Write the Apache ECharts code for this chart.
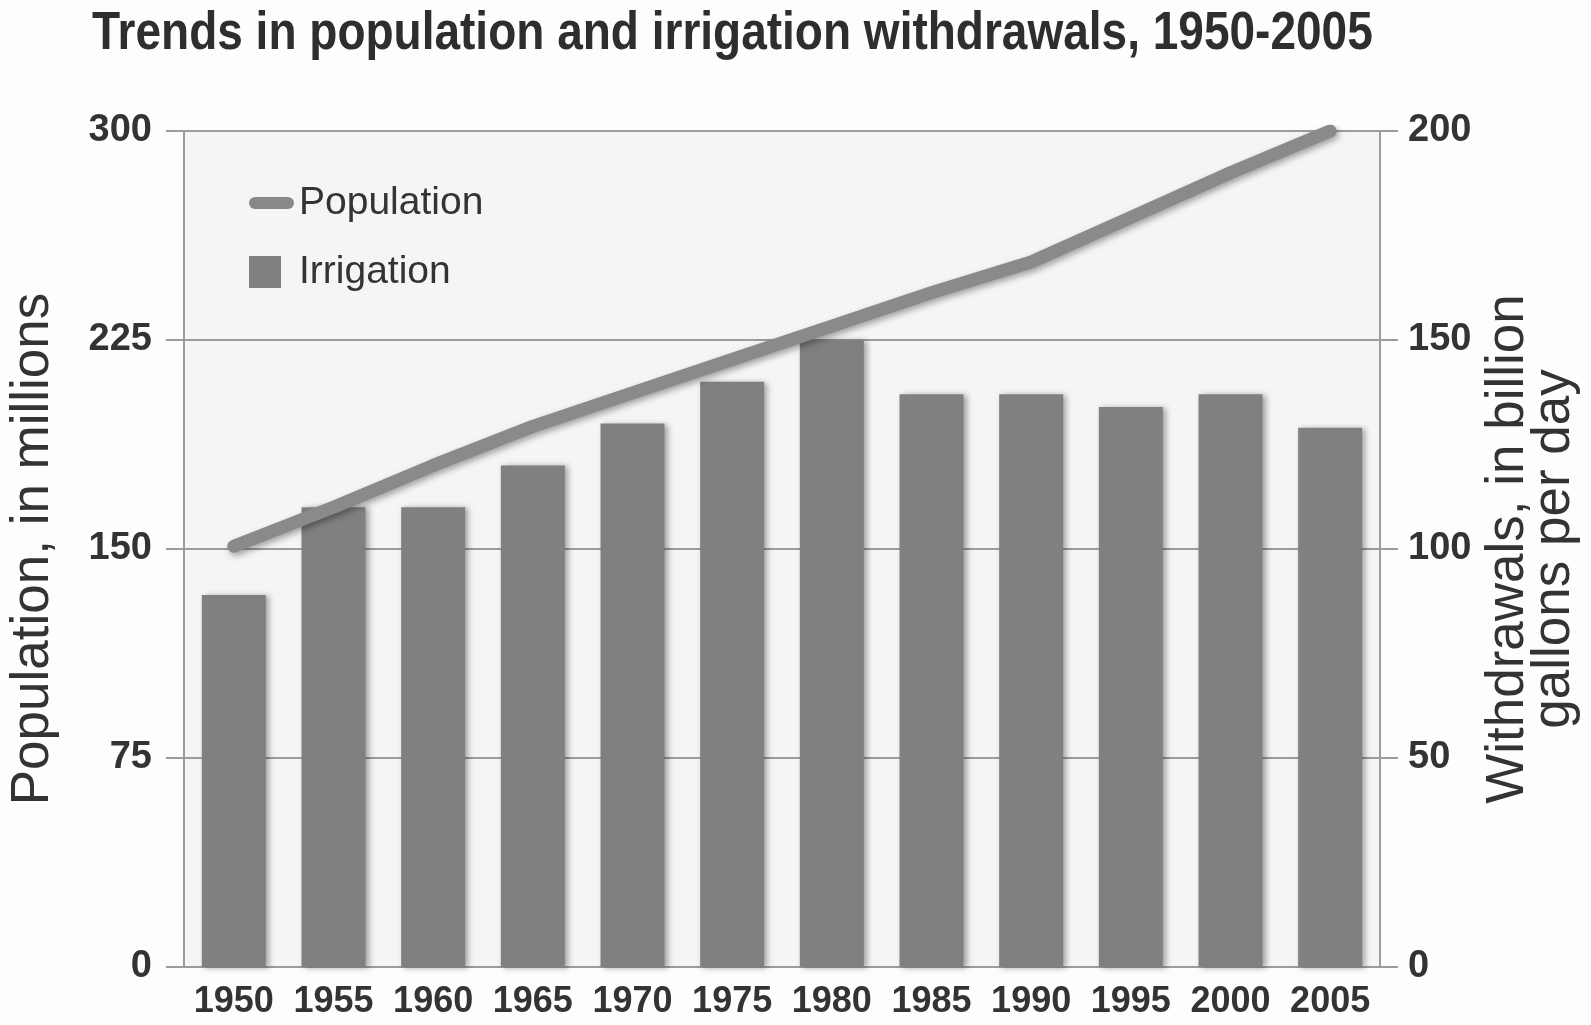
<!DOCTYPE html>
<html>
<head>
<meta charset="utf-8">
<script src="https://cdn.jsdelivr.net/npm/echarts@6/dist/echarts.min.js"></script>
<style>
  html, body { margin: 0; padding: 0; background: #fdfdfd; }
  #main { width: 1591px; height: 1025px; }
</style>
</head>
<body>
<div id="main"></div>
<script>
var years = ['1950', '1955', '1960', '1965', '1970', '1975', '1980', '1985', '1990', '1995', '2000', '2005'];
// population, millions (left axis)
var population = [151, 165, 180, 194, 206, 218, 230, 242, 253, 269, 285, 300];
// irrigation withdrawals, billion gallons per day (right axis)
var irrigation = [89, 110, 110, 120, 130, 140, 150, 137, 137, 134, 137, 129];

var titleText = 'Trends in population and irrigation withdrawals, 1950-2005';
var font = "'Liberation Sans', Arial, sans-serif";
var gridGray = '#9c9c9c';

var chart = echarts.init(document.getElementById('main'));

var option = {
  backgroundColor: '#fdfdfd',
  animation: false,
  // title drawn as graphic text so it can be squeezed like the condensed original
  graphic: [{
    type: 'text',
    x: 92,
    y: 8,
    scaleX: 0.868,
    style: {
      text: titleText,
      font: "bold 53px 'Liberation Sans', Arial, sans-serif",
      fill: '#2e2e2e',
      textVerticalAlign: 'top'
    }
  }],
  legend: {
    orient: 'vertical',
    left: 244,
    top: 178,
    itemWidth: 45,
    itemHeight: 32,
    itemGap: 29,
    textStyle: { fontFamily: font, fontSize: 39, color: '#333', lineHeight: 40 },
    data: [
      { name: 'Population', icon: 'path://M6,0 H39 A6,6 0 0 1 39,12 H6 A6,6 0 0 1 6,0 Z', itemStyle: { color: '#888' } },
      { name: 'Irrigation', icon: 'path://M0,0 H32 V32 H0 Z M45,32 L45,32', itemStyle: { color: '#808080' } }
    ]
  },
  grid: {
    left: 184, right: 211, top: 131, bottom: 58,
    containLabel: false,
    outerBoundsMode: 'none',
    show: true, backgroundColor: '#f5f5f5', borderWidth: 0
  },
  xAxis: {
    type: 'category',
    data: years,
    axisTick: { show: false },
    axisLine: { lineStyle: { color: gridGray, width: 2 } },
    axisLabel: { fontFamily: font, fontWeight: 'bold', fontSize: 36, color: '#333', margin: 17, interval: 0 }
  },
  yAxis: [
    {
      type: 'value', min: 0, max: 300, interval: 75,
      name: 'Population, in millions',
      nameLocation: 'middle', nameGap: 124,
      nameTextStyle: { fontFamily: font, fontSize: 53, color: '#333' },
      axisLine: { show: true, lineStyle: { color: gridGray, width: 2 } },
      axisTick: { show: true, length: 18, lineStyle: { color: gridGray, width: 2 } },
      splitLine: { lineStyle: { color: gridGray, width: 2 } },
      axisLabel: { fontFamily: font, fontWeight: 'bold', fontSize: 38, color: '#333', margin: 32 }
    },
    {
      type: 'value', min: 0, max: 200, interval: 50,
      name: 'Withdrawals, in billion\ngallons per day',
      nameLocation: 'middle', nameGap: 97,
      nameRotate: 90,
      nameTextStyle: { fontFamily: font, fontSize: 53, color: '#333', lineHeight: 46, align: 'center' },
      axisLine: { show: true, lineStyle: { color: gridGray, width: 2 } },
      axisTick: { show: true, length: 18, lineStyle: { color: gridGray, width: 2 } },
      splitLine: { show: false },
      axisLabel: { fontFamily: font, fontWeight: 'bold', fontSize: 38, color: '#333', margin: 28 }
    }
  ],
  series: [
    {
      name: 'Irrigation',
      type: 'bar',
      yAxisIndex: 1,
      barWidth: 64,
      data: irrigation,
      itemStyle: {
        color: '#808080',
        shadowBlur: 6, shadowColor: 'rgba(0,0,0,0.35)', shadowOffsetX: 3, shadowOffsetY: 1
      }
    },
    {
      name: 'Population',
      type: 'line',
      yAxisIndex: 0,
      data: population,
      symbol: 'none',
      lineStyle: {
        color: '#8a8a8a', width: 13, cap: 'round', join: 'round',
        shadowBlur: 6, shadowColor: 'rgba(0,0,0,0.35)', shadowOffsetX: 2, shadowOffsetY: 3
      },
      itemStyle: { color: '#888' },
      z: 5
    }
  ]
};

chart.setOption(option);
</script>
</body>
</html>
